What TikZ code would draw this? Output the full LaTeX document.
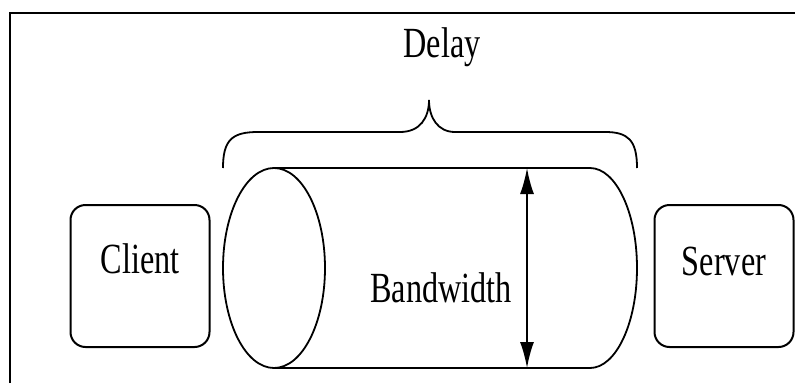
\documentclass[tikz,border=0pt]{standalone}
\usepackage{fontspec}
\setmainfont{Liberation Serif}
\usepackage{graphicx}
\usetikzlibrary{
	arrows.meta,
	positioning
}

\newcommand{\tallword}[1]{\scalebox{0.75}[1]{#1}}

\begin{document}
\begin{tikzpicture}[
		x=1pt,
		y=-1pt,
		>={Latex[length=26pt,width=14pt]},
		endbox/.style={
			draw,
			line width=2pt,
			rounded corners=15pt,
			minimum width=139pt,
			minimum height=142pt,
			inner sep=0pt
		},
		word/.style={
			font=\fontsize{43}{43}\selectfont,
			inner sep=0pt,
			anchor=base
		},
		pipe/.style={
			line width=1.8pt
		}
		]
		
		\useasboundingbox (0,0) rectangle (795,383);
		
		% Frame
		\draw[line width=2.5pt] (10,383) -- (10,13) -- (795,13);
		
		% Client and server
		\node[endbox] (client) at (140,276) {};
		\node[word] (clientname) at (140,273) {\tallword{Client}};
		\node[endbox] (server) at (724,276) {};
		\node[word] (servername) at (724,275) {\tallword{Server}};
		
		% Pipe
		\coordinate (ptop) at (274,168);
		\coordinate (pbot) at (274,368);
		\draw[pipe] (274,268) ellipse [x radius=51, y radius=100];
		\draw[pipe] (ptop) -- (590,168)
			arc[start angle=-90, end angle=90, x radius=47, y radius=100]
			-- (pbot);
		
		% Bandwidth
		\coordinate (bwtop) at (527,168);
		\coordinate (bwbot) at (527,368);
		\draw[<->,pipe] (bwtop) -- (bwbot);
		\node[word] (bandwidth) at (441,302) {\tallword{Bandwidth}};
		
		% Delay
		\coordinate (braceL) at (223,168);
		\coordinate (braceTip) at (429,100);
		\coordinate (braceR) at (637,168);
		\draw[pipe] (braceL) .. controls (223,140) and (232,132) .. (258,132)
			-- (400,132) .. controls (420,132) and (429,118) .. (braceTip)
			.. controls (429,118) and (438,132) .. (455,132)
			-- (605,132) .. controls (628,132) and (637,140) .. (braceR);
		\node[word] (delay) at (442,57) {\tallword{Delay}};
		
	\end{tikzpicture}
\end{document}
